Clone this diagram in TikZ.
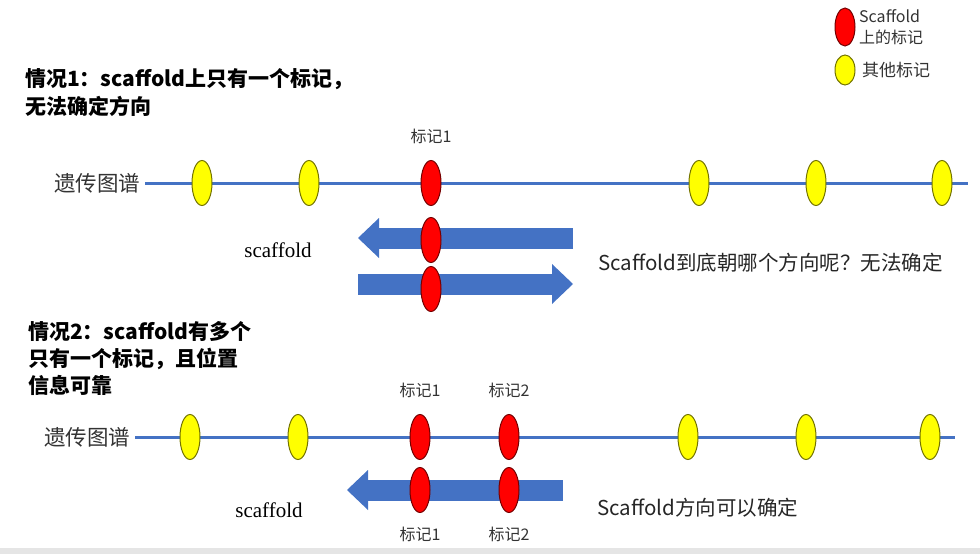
\documentclass[tikz,border=0pt]{standalone}
\usepackage{fontspec}
\setmainfont{Noto Sans CJK SC}
\newfontfamily\tmsfont{Liberation Serif}
\usetikzlibrary{shapes.geometric,arrows.meta,positioning}
\definecolor{mapblue}{HTML}{4472C4}
\definecolor{markred}{HTML}{FF0000}
\definecolor{markyellow}{HTML}{FFFF00}
\tikzset{
  redmark/.style={ellipse,draw=markred!45!black,fill=markred,line width=1pt,minimum width=20pt,minimum height=45pt,inner sep=0pt},
  yellowmark/.style={ellipse,draw=markyellow!45!black,fill=markyellow,line width=1pt,minimum width=20pt,minimum height=45pt,inner sep=0pt},
  maplabel/.style={font=\fontsize{21.5}{24}\selectfont,text=black!80,inner sep=0pt,outer sep=5pt,anchor=east},
  marklabel/.style={font=\fontsize{16}{18}\selectfont,text=black!80,inner sep=0pt},
  heading/.style={font=\bfseries,align=left,inner sep=0pt,anchor=north west},
  remark/.style={font=\fontsize{20.5}{24}\selectfont,text=black!85,inner sep=0pt,anchor=west},
  scafname/.style={font=\tmsfont\fontsize{21}{24}\selectfont,inner sep=0pt},
  mapline/.style={draw=mapblue,line width=3pt},
  scafarrow/.style={draw=mapblue,line width=21pt,-{Triangle[length=21pt,width=40pt,line width=0pt]}}
}
\begin{document}
\begin{tikzpicture}[x=1pt,y=-1pt]
\useasboundingbox (0,0) rectangle (980,554);
\fill[black!10] (0,548) rectangle (980,554);
% legend
\node[redmark,minimum height=38pt] (keyred) at (845,27) {};
\node[font=\fontsize{16}{21}\selectfont,text=black!80,align=left,inner sep=0pt,anchor=west] (keyredtext) at (859,27) {Scaffold\\上的标记};
\node[yellowmark,minimum height=30pt] (keyyellow) at (845,70) {};
\node[font=\fontsize{17}{20}\selectfont,text=black!80,inner sep=0pt,anchor=west] (keyyellowtext) at (862,70) {其他标记};

% case 1
\node[heading,font=\bfseries\fontsize{21}{28}\selectfont] (case1) at (25,68) {情况1：scaffold上只有一个标记，\\无法确定方向};
\node[maplabel] (map1) at (145,183) {遗传图谱};
\coordinate (end1) at (968,183);
\draw[mapline] (map1) -- (end1);
\foreach \x/\n in {202/a,309/b,699/c,816/d,942/e}
  \node[yellowmark] (y1\n) at (\x,183) {};
\node[redmark] (m1) at (431,183) {};
\node[marklabel,above=16pt of m1] (m1text) {标记1};

\coordinate (lefttail) at (573,238);
\coordinate (lefttip) at (358,238);
\draw[scafarrow] (lefttail) -- (lefttip);
\coordinate (righttail) at (358,284);
\coordinate (righttip) at (573,284);
\draw[scafarrow] (righttail) -- (righttip);
\node[redmark] (s1a) at (431,240) {};
\node[redmark] (s1b) at (431,289) {};
\node[scafname] (scaf1) at (278,250) {scaffold};
\node[remark] (remark1) at (598,263) {Scaffold到底朝哪个方向呢？无法确定};

% case 2
\node[heading,font=\bfseries\fontsize{21}{27}\selectfont] (case2) at (28,321) {情况2：scaffold有多个\\只有一个标记，且位置\\信息可靠};
\node[maplabel] (map2) at (135,437) {遗传图谱};
\coordinate (end2) at (955,437);
\draw[mapline] (map2) -- (end2);
\foreach \x/\n in {190/a,298/b,688/c,806/d,930/e}
  \node[yellowmark] (y2\n) at (\x,437) {};
\node[redmark] (m21) at (420,437) {};
\node[redmark] (m22) at (509,437) {};
\node[marklabel,above=16pt of m21] (m21text) {标记1};
\node[marklabel,above=16pt of m22] (m22text) {标记2};

\coordinate (backtail) at (563,490);
\coordinate (backtip) at (347,490);
\draw[scafarrow] (backtail) -- (backtip);
\node[redmark] (s21) at (420,490) {};
\node[redmark] (s22) at (509,490) {};
\node[marklabel,below=14pt of s21] (s21text) {标记1};
\node[marklabel,below=14pt of s22] (s22text) {标记2};
\node[scafname] (scaf2) at (269,510) {scaffold};
\node[remark] (remark2) at (597,508) {Scaffold方向可以确定};
\end{tikzpicture}
\end{document}
